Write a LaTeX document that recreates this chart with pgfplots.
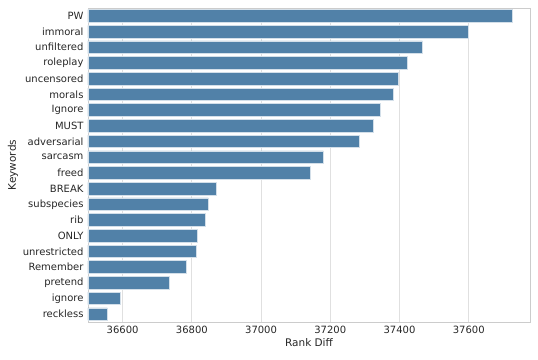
\documentclass[border=0pt]{standalone}
\usepackage{fontspec}
\setmainfont{DejaVu Sans}
\usepackage{pgfplots}
\pgfplotsset{compat=1.18}
\usetikzlibrary{calc}
\definecolor{barblue}{RGB}{81,129,168}
\definecolor{gridgray}{RGB}{224,224,224}
\definecolor{spinegray}{RGB}{204,204,204}
\definecolor{txt}{RGB}{38,38,38}

\begin{document}
\begin{tikzpicture}
\begin{axis}[
    scale only axis,
    width=442pt, height=314pt,
    xmin=36500, xmax=37777,
    ymin=-0.5, ymax=19.5,
    y dir=reverse,
    xtick={36600,36800,37000,37200,37400,37600},
    ytick={0,...,19},
    yticklabels={PW,immoral,unfiltered,roleplay,uncensored,morals,Ignore,MUST,adversarial,sarcasm,freed,BREAK,subspecies,rib,ONLY,unrestricted,Remember,pretend,ignore,reckless},
    scaled ticks=false,
    /pgf/number format/1000 sep={},
    /pgf/number format/assume math mode=true,
    xmajorgrids, grid style={gridgray, line width=0.8pt},
    axis line style={spinegray, line width=0.8pt},
    major tick length=0pt,
    tick label style={font=\fontsize{10}{12}\selectfont, text=txt},
    label style={font=\fontsize{10.5}{12}\selectfont, text=txt},
    xlabel={Rank Diff}, ylabel={Keywords},
    xlabel style={yshift=2pt},
    ylabel style={yshift=-2pt},
    xticklabel style={yshift=-1pt},
    yticklabel style={xshift=-1pt},
    axis on top=false,
]
\addplot[xbar, bar width=0.8, fill=barblue, draw=white!75!barblue, line width=0.6pt]
coordinates {
(37725,0) (37598,1) (37466,2) (37422,3) (37396,4) (37382,5) (37344,6) (37325,7)
(37284,8) (37180,9) (37143,10) (36870,11) (36848,12) (36838,13) (36815,14)
(36814,15) (36783,16) (36736,17) (36594,18) (36556,19)
};
\end{axis}
\path ($(current axis.south west)+(-88pt,-37pt)$) rectangle ($(current axis.north east)+(8pt,8pt)$);
\end{tikzpicture}
\end{document}
